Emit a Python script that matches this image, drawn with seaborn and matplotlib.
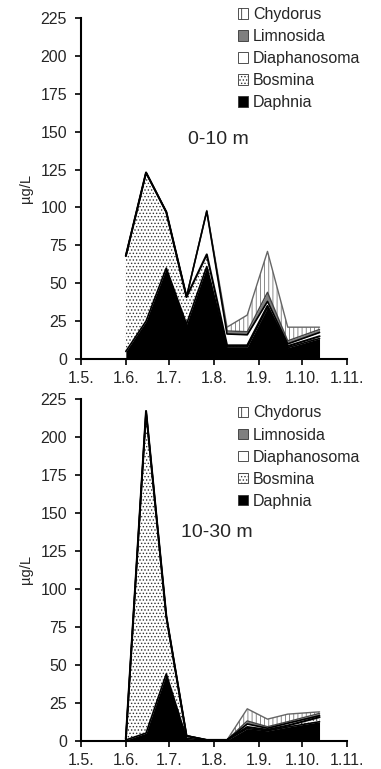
import matplotlib
matplotlib.use("Agg")
import matplotlib.pyplot as plt
from matplotlib.patches import Patch
import numpy as np
import seaborn as sns

# sampling days counted from 1 May (1.5. = day 0)
days = [31, 45, 59, 73, 87, 101, 115, 129, 143, 165]
tick_days = [0, 31, 61, 92, 123, 153, 184]
tick_labels = ["1.5.", "1.6.", "1.7.", "1.8.", "1.9.", "1.10.", "1.11."]
y_ticks = [0, 25, 50, 75, 100, 125, 150, 175, 200, 225]

species = ["Daphnia", "Bosmina", "Diaphanosoma", "Limnosida", "Chydorus"]

# 0-10 m
top_daphnia = [5, 25, 60, 23, 61, 8, 8, 34, 7.5, 13.5]
top_bosmina = [63, 98, 37, 18, 8, 1, 1, 1, 1, 1.5]
top_diaphanosoma = [0, 0, 0, 0, 28.5, 7.5, 7, 3, 1.5, 2.5]
top_limnosida = [0, 0, 0, 0, 0, 2, 2, 6, 2, 2]
top_chydorus = [0, 0, 0, 0, 0.5, 2.5, 11, 27, 9, 1.5]

# 10-30 m
bot_daphnia = [0.5, 5, 44, 1.5, 0.3, 0.3, 8, 6.5, 9, 12.5]
bot_bosmina = [0.5, 212, 38, 1.5, 0.2, 0.2, 1, 0.7, 1, 3]
bot_diaphanosoma = [0, 0, 0, 0.3, 0, 0, 2, 1, 1.5, 1]
bot_limnosida = [0, 0, 0, 0, 0, 0, 2, 1, 1, 1.5]
bot_chydorus = [0, 0, 0, 0, 0, 0, 8, 5, 5, 1]

panel_titles = ["0-10 m", "10-30 m"]

sns.set_theme(style="ticks")
plt.rcParams["font.family"] = ["Liberation Sans", "DejaVu Sans"]
plt.rcParams["hatch.linewidth"] = 0.6

styles = {
    "Daphnia": dict(face="black", hatch=None, hcol="black", line="black", lw=1.2),
    "Bosmina": dict(face="white", hatch=".....", hcol="#333333", line="black", lw=1.5),
    "Diaphanosoma": dict(face="white", hatch=None, hcol="black", line="black", lw=1.2),
    "Limnosida": dict(face="#7f7f7f", hatch=None, hcol="#555555", line="#444444", lw=1.0),
    "Chydorus": dict(face="white", hatch="||||", hcol="#777777", line="#666666", lw=1.0),
}

fig = plt.figure(figsize=(3.81, 7.69), dpi=100)
ax1 = fig.add_axes([81 / 381, 1 - 359 / 769, 266 / 381, 341 / 769])
ax2 = fig.add_axes([81 / 381, 1 - 740.7 / 769, 266 / 381, 341.7 / 769])

panels = [
    (ax1, [top_daphnia, top_bosmina, top_diaphanosoma, top_limnosida, top_chydorus], (74, 145)),
    (ax2, [bot_daphnia, bot_bosmina, bot_diaphanosoma, bot_limnosida, bot_chydorus], (69, 137)),
]

for (ax, layers, tpos), title in zip(panels, panel_titles):
    base = np.zeros(len(days))
    tops = []
    for name, vals in zip(species, layers):
        st = styles[name]
        top = base + np.array(vals, dtype=float)
        ax.fill_between(days, base, top, facecolor=st["face"], hatch=st["hatch"],
                        edgecolor=st["hcol"], linewidth=0)
        tops.append((name, top))
        base = top
    for name, top in reversed(tops):
        st = styles[name]
        sns.lineplot(x=days, y=top, color=st["line"], linewidth=st["lw"], ax=ax,
                     estimator=None, sort=False)
    ax.set_xlim(0, 184)
    ax.set_ylim(0, 225)
    ax.set_xticks(tick_days)
    ax.set_xticklabels(tick_labels)
    ax.set_yticks(y_ticks)
    ax.tick_params(axis="both", labelsize=11.5, length=4, width=1.2, color="black")
    ax.tick_params(axis="y", pad=6)
    ax.tick_params(axis="x", pad=5)
    for s in ["top", "right"]:
        ax.spines[s].set_visible(False)
    for s in ["left", "bottom"]:
        ax.spines[s].set_color("black")
        ax.spines[s].set_linewidth(1.5)
    ax.set_ylabel("µg/L", fontsize=10.5)
    ax.yaxis.set_label_coords(-0.18, 0.5)
    ax.text(tpos[0], tpos[1], title, fontsize=14, va="center", ha="left")

legend_order = ["Chydorus", "Limnosida", "Diaphanosoma", "Bosmina", "Daphnia"]
leg_hatch = {"Chydorus": "|", "Bosmina": "....."}


def make_handles():
    hs = []
    for name in legend_order:
        st = styles[name]
        hs.append(Patch(facecolor=st["face"], edgecolor="#333333",
                        hatch=leg_hatch.get(name), linewidth=0.6))
    return hs


for ytop in (7, 405.5):
    fig.legend(make_handles(), legend_order, loc="upper left",
               bbox_to_anchor=(238 / 381, 1 - ytop / 769), frameon=False,
               fontsize=11.5, handlelength=0.65, handleheight=0.65,
               handletextpad=0.3, labelspacing=0.44, borderpad=0, borderaxespad=0)

fig.savefig("out.png", dpi=100)
